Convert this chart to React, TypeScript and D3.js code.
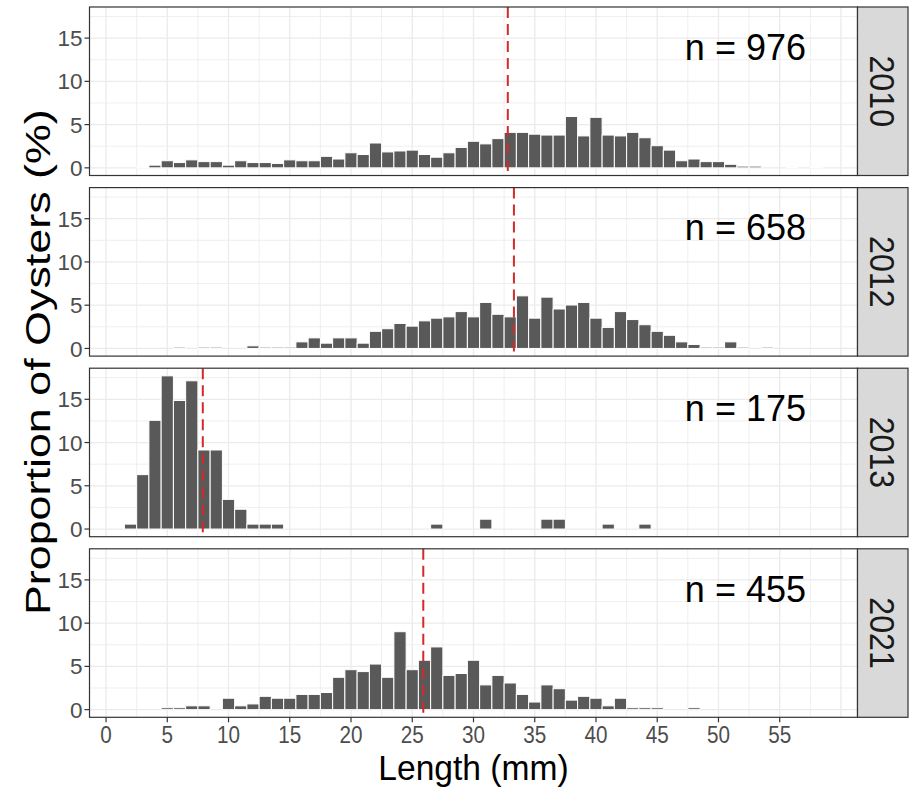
import React from "react";
import * as d3 from "d3";

const years = ["2010", "2012", "2013", "2021"];
const sampleSizes = [976, 658, 175, 455];
const meanLengths = [32.8, 33.3, 7.9, 25.9];

const lengthBins = [
  2, 3, 4, 5, 6, 7, 8, 9, 10, 11, 12, 13, 14, 15, 16, 17, 18, 19, 20, 21, 22, 23, 24, 25, 26, 27, 28, 29,
  30, 31, 32, 33, 34, 35, 36, 37, 38, 39, 40, 41, 42, 43, 44, 45, 46, 47, 48, 49, 50, 51, 52, 53, 54, 55,
  56, 57, 58,
];

const pct2010 = [
  0, 0.1, 0.31, 0.82, 0.61, 0.92, 0.72, 0.72, 0.31, 0.82, 0.61, 0.61, 0.51, 0.92, 0.82, 0.82, 1.33, 1.02,
  1.74, 1.54, 2.87, 1.84, 1.95, 2.05, 1.54, 1.23, 1.74, 2.36, 3.07, 2.77, 3.38, 4.1, 4.1, 3.89, 3.79, 3.79,
  5.94, 3.69, 5.84, 3.79, 3.69, 4.1, 3.48, 2.56, 2.05, 0.82, 1.02, 0.72, 0.72, 0.41, 0.2, 0.2, 0, 0, 0.1,
  0, 0.1,
];
const pct2012 = [
  0, 0, 0, 0, 0.15, 0, 0.15, 0.15, 0, 0, 0.3, 0.15, 0.15, 0.15, 0.76, 1.22, 0.61, 1.22, 1.22, 0.61, 1.98,
  2.28, 2.89, 2.58, 3.19, 3.5, 3.65, 4.26, 3.65, 5.32, 3.95, 3.65, 6.08, 3.5, 5.93, 4.56, 5.02, 5.32, 3.5,
  2.43, 4.26, 3.34, 2.74, 1.98, 1.52, 0.76, 0.46, 0.15, 0.15, 0.76, 0.15, 0, 0.15, 0, 0, 0, 0,
];
const pct2013 = [
  0.57, 6.29, 12.57, 17.71, 14.86, 17.14, 9.14, 9.14, 3.43, 2.29, 0.57, 0.57, 0.57, 0, 0, 0, 0, 0, 0, 0, 0,
  0, 0, 0, 0, 0.57, 0, 0, 0, 1.14, 0, 0, 0, 0, 1.14, 1.14, 0, 0, 0, 0.57, 0, 0, 0.57, 0, 0, 0, 0, 0, 0, 0,
  0, 0, 0, 0, 0, 0, 0,
];
const pct2021 = [
  0, 0, 0, 0.22, 0.22, 0.44, 0.44, 0, 1.32, 0.44, 0.66, 1.54, 1.32, 1.32, 1.76, 1.76, 1.98, 3.74, 4.62, 4.4,
  5.27, 3.74, 9.01, 4.62, 5.71, 7.25, 3.96, 4.18, 5.71, 2.86, 3.96, 3.08, 1.76, 0.88, 2.86, 2.42, 1.1, 1.54,
  1.32, 0.44, 1.32, 0.22, 0.22, 0.22, 0, 0, 0.22, 0, 0, 0, 0, 0, 0, 0, 0, 0, 0,
];
const yearSeries = [pct2010, pct2012, pct2013, pct2021];

const xTicks = [0, 5, 10, 15, 20, 25, 30, 35, 40, 45, 50, 55];
const yTicks = [0, 5, 10, 15];
const xTitle = "Length (mm)";
const yTitle = "Proportion of Oysters (%)";

const FONT = "'Liberation Sans', Arial, sans-serif";
const W = 916;
const H = 789;
const PANEL_LEFT = 89.5;
const PANEL_RIGHT = 857.5;
const PANEL_TOP = 7;
const PANEL_H = 168.5;
const PANEL_STRIDE = 180.6;
const STRIP_W = 50.5;
const TICK_FS = 22.5;
const XTITLE_FS = 35;
const YTITLE_FS = 39;
const N_FS = 36;
const STRIP_FS = 35;

export default function App() {
  const x = d3.scaleLinear().domain([-1.35, 61.35]).range([PANEL_LEFT, PANEL_RIGHT]);
  const yMax = 17.71 * 1.05;
  const yMin = -17.71 * 0.05;
  const gridX = d3.range(0, 61, 2.5);
  const gridY = [0, 2.5, 5, 7.5, 10, 12.5, 15, 17.5];
  const lastBottom = PANEL_TOP + 3 * PANEL_STRIDE + PANEL_H;

  return (
    <svg
      width={W}
      height={H}
      style={{ position: "absolute", left: 0, top: 0, background: "#fff" }}
      fontFamily={FONT}
    >
      <rect x={0} y={0} width={W} height={H} fill="#fff" />
      {years.map((yr, i) => {
        const top = PANEL_TOP + i * PANEL_STRIDE;
        const y = d3.scaleLinear().domain([yMin, yMax]).range([top + PANEL_H, top]);
        const vals = yearSeries[i];
        return (
          <g key={yr}>
            <rect x={PANEL_LEFT} y={top} width={PANEL_RIGHT - PANEL_LEFT} height={PANEL_H} fill="#fff" />
            {gridX.map((g) => (
              <line
                key={"gx" + g}
                x1={x(g)}
                x2={x(g)}
                y1={top}
                y2={top + PANEL_H}
                stroke="#EBEBEB"
                strokeWidth={g % 5 === 0 ? 1.3 : 0.8}
              />
            ))}
            {gridY.map((g) => (
              <line
                key={"gy" + g}
                x1={PANEL_LEFT}
                x2={PANEL_RIGHT}
                y1={y(g)}
                y2={y(g)}
                stroke="#EBEBEB"
                strokeWidth={g % 5 === 0 ? 1.3 : 0.8}
              />
            ))}
            {lengthBins.map((b, j) =>
              vals[j] > 0 ? (
                <rect
                  key={"b" + b}
                  x={x(b - 0.5)}
                  width={x(b + 0.5) - x(b - 0.5)}
                  y={y(vals[j])}
                  height={y(0) - y(vals[j])}
                  fill="#595959"
                  stroke="#FFFFFF"
                  strokeWidth={1}
                />
              ) : null
            )}
            <line
              x1={x(meanLengths[i])}
              x2={x(meanLengths[i])}
              y1={top}
              y2={top + PANEL_H}
              stroke="#D42A2A"
              strokeWidth={2}
              strokeDasharray="11,6"
            />
            <text
              x={x(52.2)}
              y={y(14) + N_FS * 0.36}
              textAnchor="middle"
              fontSize={N_FS}
              fill="#000"
            >
              {"n = " + sampleSizes[i]}
            </text>
            <rect
              x={PANEL_LEFT}
              y={top}
              width={PANEL_RIGHT - PANEL_LEFT}
              height={PANEL_H}
              fill="none"
              stroke="#333333"
              strokeWidth={1.2}
            />
            {yTicks.map((t) => (
              <g key={"yt" + t}>
                <line x1={PANEL_LEFT - 5} x2={PANEL_LEFT} y1={y(t)} y2={y(t)} stroke="#333333" strokeWidth={1.2} />
                <text
                  x={PANEL_LEFT - 7}
                  y={y(t) + TICK_FS * 0.36}
                  textAnchor="end"
                  fontSize={TICK_FS}
                  fill="#4D4D4D"
                >
                  {t}
                </text>
              </g>
            ))}
            <rect
              x={PANEL_RIGHT}
              y={top}
              width={STRIP_W}
              height={PANEL_H}
              fill="#D9D9D9"
              stroke="#333333"
              strokeWidth={1.2}
            />
            <text
              transform={`translate(${PANEL_RIGHT + STRIP_W / 2},${top + PANEL_H / 2}) scale(1,0.92) rotate(90)`}
              textAnchor="middle"
              dy={STRIP_FS * 0.36}
              fontSize={STRIP_FS}
              fill="#1A1A1A"
            >
              {yr}
            </text>
          </g>
        );
      })}
      {xTicks.map((t) => (
        <g key={"xt" + t}>
          <line x1={x(t)} x2={x(t)} y1={lastBottom} y2={lastBottom + 5} stroke="#333333" strokeWidth={1.2} />
          <text
            transform={`translate(${x(t)},${lastBottom + 8 + TICK_FS * 0.78}) scale(0.92,1.05)`}
            textAnchor="middle"
            fontSize={TICK_FS}
            fill="#4D4D4D"
          >
            {t}
          </text>
        </g>
      ))}
      <text
        transform={`translate(${(PANEL_LEFT + PANEL_RIGHT) / 2},${H - 9}) scale(0.96,1)`}
        textAnchor="middle"
        fontSize={XTITLE_FS}
        fill="#000"
      >
        {xTitle}
      </text>
      <text
        transform={`translate(${37},${(PANEL_TOP + lastBottom) / 2}) scale(0.92,1.15) rotate(-90)`}
        textAnchor="middle"
        dy={YTITLE_FS * 0.36}
        fontSize={YTITLE_FS}
        fill="#000"
      >
        {yTitle}
      </text>
    </svg>
  );
}
